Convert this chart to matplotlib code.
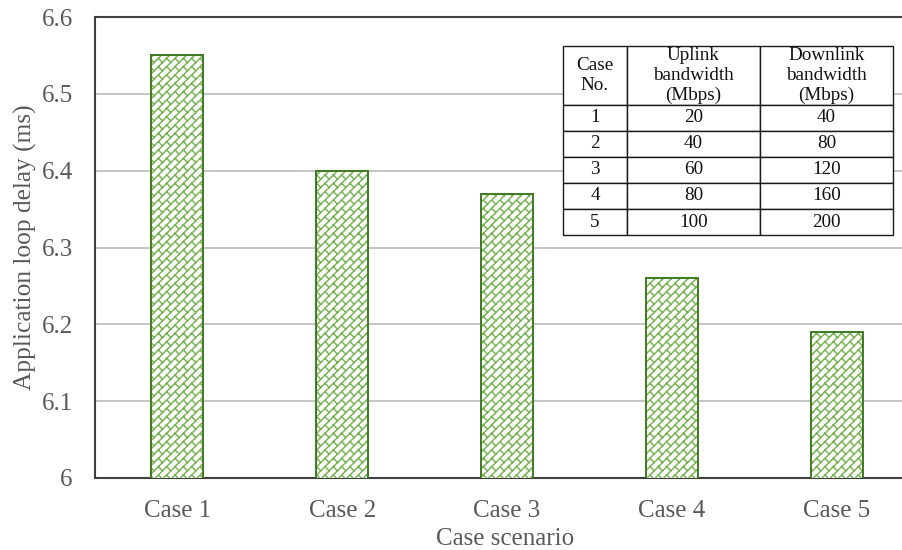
import warnings
warnings.filterwarnings("ignore")
import numpy as np
import matplotlib
matplotlib.use("Agg")
import matplotlib.pyplot as plt
import matplotlib.hatch as mhatch
from matplotlib.path import Path

# ---------------- data ----------------
cases = ["Case 1", "Case 2", "Case 3", "Case 4", "Case 5"]
delay = [6.55, 6.40, 6.37, 6.26, 6.19]
y_ticks = [6.0, 6.1, 6.2, 6.3, 6.4, 6.5, 6.6]
y_tick_labels = ["6", "6.1", "6.2", "6.3", "6.4", "6.5", "6.6"]

table_header = ["Case\nNo.", "Uplink\nbandwidth\n(Mbps)", "Downlink\nbandwidth\n(Mbps)"]
case_no = ["1", "2", "3", "4", "5"]
uplink = ["20", "40", "60", "80", "100"]
downlink = ["40", "80", "120", "160", "200"]


# ---------------- custom brick hatch ----------------
class BrickHatch(mhatch.HatchPatternBase):
    seg = np.array([
        [[0, 0], [1, 1]],
        [[0, 0.5], [0.5, 1]],
        [[0.5, 0], [1, 0.5]],
        [[0.25, 0.25], [0, 0.5]],
        [[0.75, 0.75], [0.5, 1]],
        [[0.75, 0.25], [0.5, 0.5]],
        [[0.25, 0.75], [0, 1]],
    ], dtype=float)

    def __init__(self, hatch, density):
        self.n = int(hatch.count('b') * density)
        self.num_vertices = self.n * self.n * len(self.seg) * 2 if self.n else 0

    def set_vertices_and_codes(self, vertices, codes):
        k = 0
        step = 1.0 / self.n
        for i in range(self.n):
            for j in range(self.n):
                for s in self.seg:
                    vertices[k] = (s[0] + [i, j]) * step
                    vertices[k + 1] = (s[1] + [i, j]) * step
                    codes[k] = Path.MOVETO
                    codes[k + 1] = Path.LINETO
                    k += 2


mhatch._hatch_types.append(BrickHatch)
mhatch._validate_hatch_pattern = lambda h: None

plt.rcParams['font.family'] = ['Liberation Serif', 'DejaVu Serif']
plt.rcParams['hatch.linewidth'] = 1.1

W, H = 902, 550
ax_l, ax_r, ax_t, ax_b = 95, 919, 17, 478
fig = plt.figure(figsize=(W / 100, H / 100), dpi=100)
ax = fig.add_axes([ax_l / W, 1 - ax_b / H, (ax_r - ax_l) / W, (ax_b - ax_t) / H])

x = np.arange(len(cases))
ax.bar(x, delay, width=0.315, bottom=0, color='white', edgecolor='#7cb45a',
       hatch='b', linewidth=0, zorder=3)
ax.bar(x, delay, width=0.315, fill=False, edgecolor='#3f7a22', linewidth=1.4, zorder=4)

ax.set_ylim(6.0, 6.6)
ax.set_xlim(-0.5, len(cases) - 0.5)
ax.set_yticks(y_ticks)
ax.set_yticklabels(y_tick_labels)
ax.set_xticks(x)
ax.set_xticklabels(cases)
ax.tick_params(axis='both', length=0, labelsize=18, labelcolor='#595959')
ax.tick_params(axis='y', pad=16)
ax.tick_params(axis='x', pad=16)
ax.yaxis.grid(True, color='#c0c0c0', linewidth=1.3, zorder=0)
ax.set_axisbelow(True)
for sp in ['left', 'top', 'bottom']:
    ax.spines[sp].set_color('#404040')
    ax.spines[sp].set_linewidth(1.5)
ax.spines['right'].set_visible(False)

ax.set_ylabel("Application loop delay (ms)", fontsize=18.3, color='#595959', labelpad=3)
fig.text(505 / W, 1 - 539 / H, "Case scenario", fontsize=18, color='#595959',
         ha='center', va='center')

# ---------------- inset table ----------------
aw, ah = ax_r - ax_l, ax_b - ax_t
cell_text = [[c, u, d] for c, u, d in zip(case_no, uplink, downlink)]
tbl = ax.table(cellText=cell_text, colLabels=table_header, cellLoc='center',
               colWidths=[64, 133, 133],
               bbox=[(563 - ax_l) / aw, (ax_b - 235) / ah,
                     (893 - 563) / aw, (235 - 46) / ah],
               zorder=6)
tbl.auto_set_font_size(False)
for (r, c), cell in tbl.get_celld().items():
    cell.set_linewidth(1.0)
    cell.set_edgecolor('#1a1a1a')
    cell.set_facecolor('white')
    cell.get_text().set_fontsize(13.8)
    cell.get_text().set_color('#111111')
    if r == 0:
        cell.set_height(59)
        cell.get_text().set_linespacing(1.2)
    else:
        cell.set_height(26)

fig.savefig("out.png", dpi=100)
